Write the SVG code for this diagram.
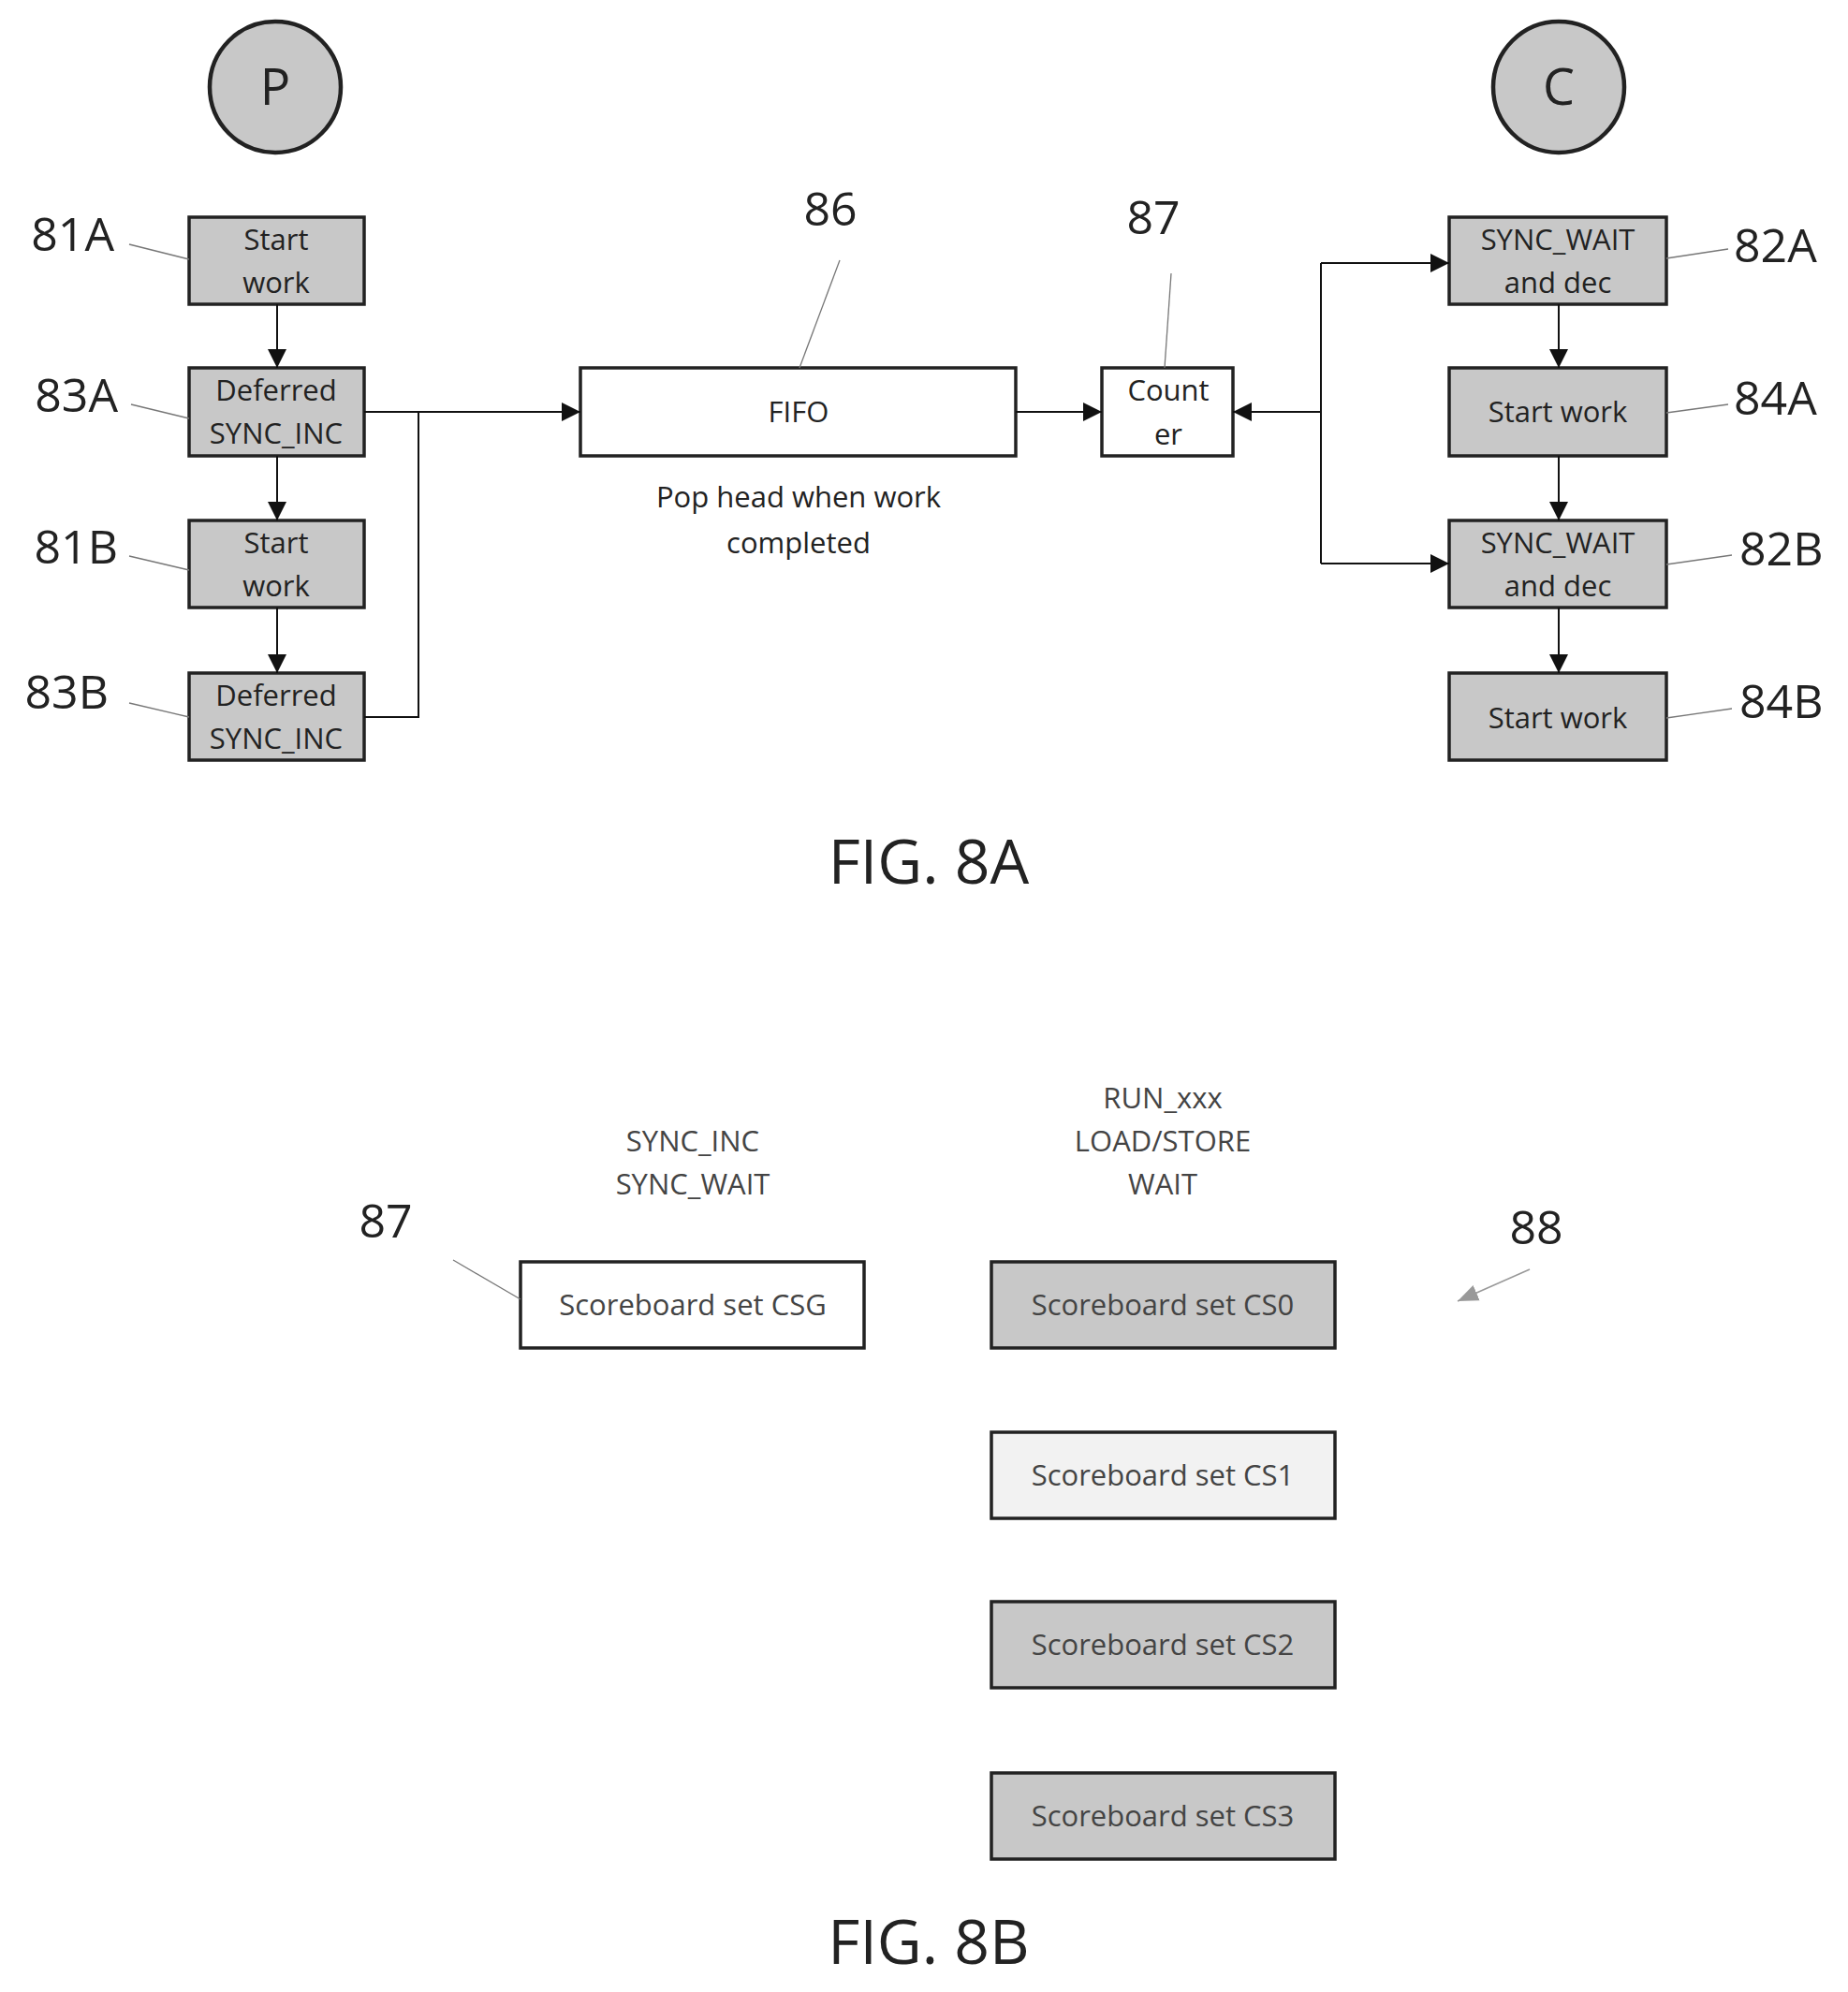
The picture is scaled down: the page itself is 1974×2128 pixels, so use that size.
<svg xmlns="http://www.w3.org/2000/svg" width="1974" height="2128" viewBox="0 0 1974 2128">
<style>
text{font-family:"Open Sans","Noto Sans",sans-serif;fill:#222}
.box{fill:#c8c8c8;stroke:#222;stroke-width:3.5}
.wbox{fill:#fff;stroke:#222;stroke-width:3.5}
.bt{font-size:31px;text-anchor:middle}
.num{font-size:50px}
.lead{stroke:#777;stroke-width:1.3;fill:none}
.con{stroke:#111;stroke-width:2;fill:none}
.fig{font-size:66px;text-anchor:middle}
.sm{font-size:31px;text-anchor:middle;fill:#444}
</style>
<defs>
<marker id="ar2" viewBox="0 0 10 10" refX="10" refY="5" markerWidth="20" markerHeight="20" markerUnits="userSpaceOnUse" orient="auto"><path d="M0,0L10,5L0,10z" fill="#111"/></marker>
<marker id="ag" viewBox="0 0 10 10" refX="10" refY="5" markerWidth="22" markerHeight="22" markerUnits="userSpaceOnUse" orient="auto"><path d="M0,1L10,5L0,9z" fill="#999"/></marker>
</defs>

<g id="P"><circle cx="294" cy="93" r="70" class="box" stroke-width="4.5" style="stroke-width:4.5"/><text x="294" y="112" font-size="54" text-anchor="middle">P</text></g>
<g id="C"><circle cx="1665" cy="93" r="70" class="box" style="stroke-width:4.5"/><text x="1665" y="112" font-size="54" text-anchor="middle">C</text></g>

<g id="n81A"><rect x="202" y="232" width="187" height="93" class="box"/><text class="bt" x="295" y="267">Start</text><text class="bt" x="295" y="313">work</text></g>
<g id="n83A"><rect x="202" y="393" width="187" height="94" class="box"/><text class="bt" x="295" y="428">Deferred</text><text class="bt" x="295" y="474">SYNC_INC</text></g>
<g id="n81B"><rect x="202" y="556" width="187" height="93" class="box"/><text class="bt" x="295" y="591">Start</text><text class="bt" x="295" y="637">work</text></g>
<g id="n83B"><rect x="202" y="719" width="187" height="93" class="box"/><text class="bt" x="295" y="754">Deferred</text><text class="bt" x="295" y="800">SYNC_INC</text></g>

<g id="n86"><rect x="620" y="393" width="465" height="94" class="wbox"/><text class="bt" x="853" y="451">FIFO</text>
<text class="bt" x="853" y="542">Pop head when work</text><text class="bt" x="853" y="591">completed</text></g>
<g id="n87"><rect x="1177" y="393" width="140" height="94" class="wbox"/><text class="bt" x="1248" y="428">Count</text><text class="bt" x="1248" y="475">er</text></g>

<g id="n82A"><rect x="1548" y="232" width="232" height="93" class="box"/><text class="bt" x="1664" y="267">SYNC_WAIT</text><text class="bt" x="1664" y="313">and dec</text></g>
<g id="n84A"><rect x="1548" y="393" width="232" height="94" class="box"/><text class="bt" x="1664" y="451">Start work</text></g>
<g id="n82B"><rect x="1548" y="556" width="232" height="93" class="box"/><text class="bt" x="1664" y="591">SYNC_WAIT</text><text class="bt" x="1664" y="637">and dec</text></g>
<g id="n84B"><rect x="1548" y="719" width="232" height="93" class="box"/><text class="bt" x="1664" y="778">Start work</text></g>

<g id="labels">
<text class="num" x="122" y="268" text-anchor="end">81A</text><path class="lead" d="M138,261L202,277"/>
<text class="num" x="126" y="440" text-anchor="end">83A</text><path class="lead" d="M140,432L202,447"/>
<text class="num" x="126" y="602" text-anchor="end">81B</text><path class="lead" d="M138,594L202,609"/>
<text class="num" x="116" y="757" text-anchor="end">83B</text><path class="lead" d="M138,751L202,766"/>
<text class="num" x="887" y="241" text-anchor="middle">86</text><path class="lead" d="M897,278L854,393"/>
<text class="num" x="1232" y="250" text-anchor="middle">87</text><path class="lead" d="M1251,292L1244,393"/>
<text class="num" x="1852" y="280">82A</text><path class="lead" d="M1780,276L1846,266"/>
<text class="num" x="1852" y="443">84A</text><path class="lead" d="M1780,441L1846,432"/>
<text class="num" x="1858" y="604">82B</text><path class="lead" d="M1780,603L1850,593"/>
<text class="num" x="1858" y="767">84B</text><path class="lead" d="M1780,767L1850,757"/>
</g>

<g id="connectors">
<path class="con" d="M296,325V393" marker-end="url(#ar2)"/>
<path class="con" d="M296,487V556" marker-end="url(#ar2)"/>
<path class="con" d="M296,649V719" marker-end="url(#ar2)"/>
<path class="con" d="M1665,325V393" marker-end="url(#ar2)"/>
<path class="con" d="M1665,487V556" marker-end="url(#ar2)"/>
<path class="con" d="M1665,649V719" marker-end="url(#ar2)"/>
<path class="con" d="M389,440H620" marker-end="url(#ar2)"/>
<path class="con" d="M389,766H447V440"/>
<path class="con" d="M1085,440H1177" marker-end="url(#ar2)"/>
<path class="con" d="M1410,440H1317" marker-end="url(#ar2)"/>
<path class="con" d="M1411,281V602"/>
<path class="con" d="M1411,281H1548" marker-end="url(#ar2)"/>
<path class="con" d="M1411,602H1548" marker-end="url(#ar2)"/>
</g>

<text class="fig" x="992" y="944">FIG. 8A</text>

<g id="hdr">
<text class="sm" x="740" y="1230">SYNC_INC</text><text class="sm" x="740" y="1276">SYNC_WAIT</text>
<text class="sm" x="1242" y="1184">RUN_xxx</text><text class="sm" x="1242" y="1230">LOAD/STORE</text><text class="sm" x="1242" y="1276">WAIT</text>
</g>
<g id="CSG"><rect x="556" y="1348" width="367" height="92" class="wbox"/><text class="sm" x="740" y="1405">Scoreboard set CSG</text></g>
<g id="CS0"><rect x="1059" y="1348" width="367" height="92" class="box"/><text class="sm" x="1242" y="1405">Scoreboard set CS0</text></g>
<g id="CS1"><rect x="1059" y="1530" width="367" height="92" class="wbox" style="fill:#f2f2f2"/><text class="sm" x="1242" y="1587">Scoreboard set CS1</text></g>
<g id="CS2"><rect x="1059" y="1711" width="367" height="92" class="box"/><text class="sm" x="1242" y="1768">Scoreboard set CS2</text></g>
<g id="CS3"><rect x="1059" y="1894" width="367" height="92" class="box"/><text class="sm" x="1242" y="1951">Scoreboard set CS3</text></g>
<g id="lab8b">
<text class="num" x="412" y="1322" text-anchor="middle">87</text><path class="lead" d="M484,1346L556,1388"/>
<text class="num" x="1641" y="1329" text-anchor="middle">88</text><path d="M1634,1356L1557,1390" stroke="#999" stroke-width="1.5" fill="none" marker-end="url(#ag)"/>
</g>
<text class="fig" x="992" y="2098">FIG. 8B</text>
</svg>
